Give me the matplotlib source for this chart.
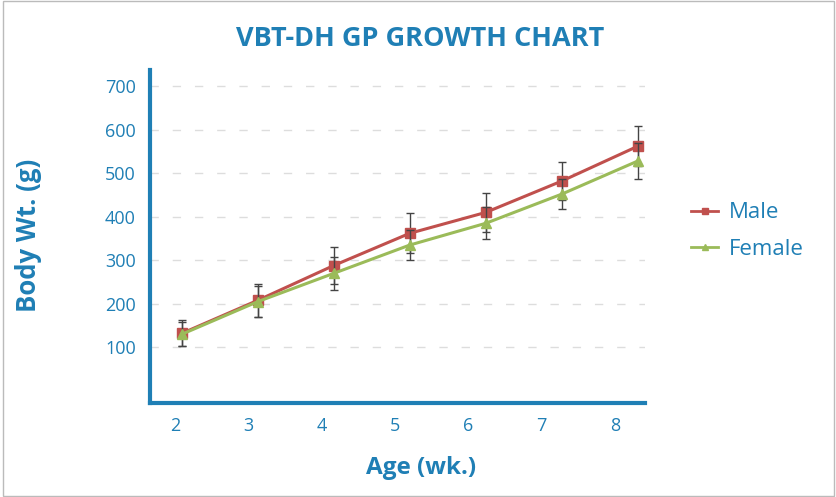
import matplotlib.pyplot as plt
from matplotlib.lines import Line2D

# данные графика
weeks = [2, 3, 4, 5, 6, 7, 8]
week_labels = ["2", "3", "4", "5", "6", "7", "8"]
male = [132, 208, 288, 362, 410, 482, 562]
female = [130, 205, 270, 335, 385, 452, 528]
male_err = [30, 38, 42, 46, 44, 43, 46]
female_err = [28, 36, 38, 35, 37, 34, 42]
y_ticks = [100, 200, 300, 400, 500, 600, 700]

blue = "#1f7fb5"
red = "#c0504d"
green = "#9bbb59"

plt.rcParams["font.family"] = ["Open Sans", "DejaVu Sans"]

fig = plt.figure(figsize=(8.37, 4.97), dpi=100)
ax = fig.add_axes([0.179, 0.189, 0.592, 0.670])

ax.errorbar(weeks, male, yerr=male_err, color=red, lw=2.2, marker="s", ms=7,
            ecolor="#444444", elinewidth=1, capsize=3, zorder=3)
ax.errorbar(weeks, female, yerr=female_err, color=green, lw=2.2, marker="^", ms=7,
            ecolor="#444444", elinewidth=1, capsize=3, zorder=4)

ax.set_xlim(1.58, 8.1)
ax.set_ylim(-28, 737)
# подписи оси X сдвинуты относительно точек, как в оригинале
tick_pos = [1.91 + i * 0.965 for i in range(len(week_labels))]
ax.set_xticks(tick_pos)
ax.set_xticklabels(week_labels)
ax.set_yticks(y_ticks)
ax.tick_params(length=0, labelsize=13, labelcolor=blue, pad=10)

ax.yaxis.grid(True, color="#dddddd", linestyle=(0, (6, 10)), lw=1)
ax.set_axisbelow(True)
for s in ["top", "right"]:
    ax.spines[s].set_visible(False)
for s in ["left", "bottom"]:
    ax.spines[s].set_color(blue)
    ax.spines[s].set_linewidth(3)

fig.text(0.502, 0.922, "VBT-DH GP GROWTH CHART", ha="center", va="center",
         fontsize=19.5, fontweight="bold", color=blue)
fig.text(0.503, 0.058, "Age (wk.)", ha="center", va="center",
         fontsize=17.5, fontweight="bold", color=blue)
fig.text(0.034, 0.527, "Body Wt. (g)", ha="center", va="center", rotation=90,
         fontsize=18.5, fontweight="bold", color=blue)

handles = [Line2D([], [], color=red, lw=2, marker="s", ms=4),
           Line2D([], [], color=green, lw=2, marker="^", ms=4)]
leg = fig.legend(handles, ["Male", "Female"], loc="center left",
                 bbox_to_anchor=(0.802, 0.535), frameon=False,
                 fontsize=16, handlelength=1.2, handletextpad=0.5, labelspacing=0.7)
for t in leg.get_texts():
    t.set_color(blue)

border = plt.Rectangle((0.003, 0.003), 0.994, 0.994, transform=fig.transFigure,
                       fill=False, edgecolor="#bbbbbb", lw=1)
fig.patches.append(border)

fig.savefig("out.png", dpi=100)
